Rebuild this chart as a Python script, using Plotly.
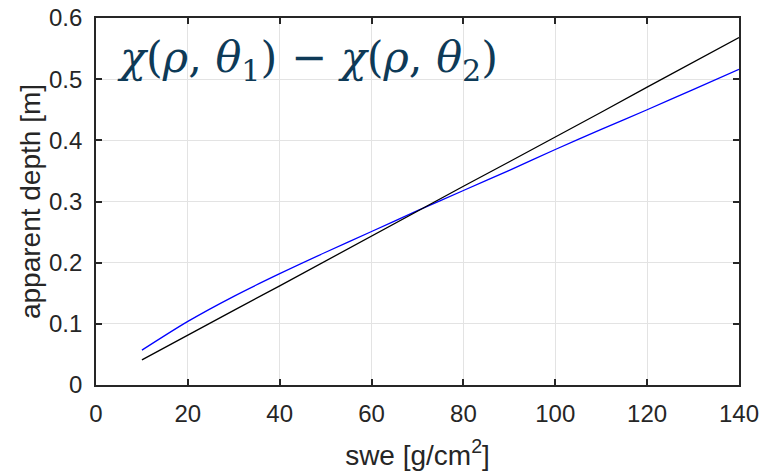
import plotly.graph_objects as go

swe = [10, 20, 30, 40, 50, 60, 70, 80, 90, 100, 110, 120, 130, 140]
depth_blue = [0.057, 0.104, 0.145, 0.182, 0.217, 0.251, 0.285, 0.318, 0.351, 0.385, 0.418, 0.450, 0.483, 0.516]
depth_black = [0.041, 0.082, 0.122, 0.162, 0.203, 0.243, 0.284, 0.325, 0.365, 0.405, 0.446, 0.487, 0.527, 0.568]

x_ticks = [0, 20, 40, 60, 80, 100, 120, 140]
y_ticks = [0, 0.1, 0.2, 0.3, 0.4, 0.5, 0.6]
y_ticklabels = ["0", "0.1", "0.2", "0.3", "0.4", "0.5", "0.6"]

axcol = "#262626"
fig = go.Figure()
fig.add_trace(go.Scatter(x=swe, y=depth_blue, mode="lines", line=dict(color="#0000ff", width=1.3, shape="spline", smoothing=0.8), showlegend=False))
fig.add_trace(go.Scatter(x=swe, y=depth_black, mode="lines", line=dict(color="#000000", width=1.3), showlegend=False))

axis_common = dict(showline=True, linecolor=axcol, linewidth=1.6, mirror="allticks",
                   ticks="inside", ticklen=6, tickwidth=1.6, tickcolor=axcol,
                   showgrid=True, gridcolor="#e3e3e3", gridwidth=1, zeroline=False,
                   automargin=False,
                   tickfont=dict(family="Liberation Sans, Arial", size=24, color=axcol))

fig.update_xaxes(range=[0, 140], tickvals=x_ticks, ticktext=[str(v) for v in x_ticks],
                 ticklabelstandoff=6,
                 title=dict(text="swe [g/cm<sup>2</sup>]", font=dict(family="Liberation Sans, Arial", size=28, color=axcol), standoff=20),
                 **axis_common)
fig.update_yaxes(range=[0, 0.6], tickvals=y_ticks, ticktext=y_ticklabels,
                 ticklabelstandoff=7,
                 title=dict(text="apparent depth [m]", font=dict(family="Liberation Sans, Arial", size=28, color=axcol), standoff=0),
                 **axis_common)

fig.add_annotation(xref="paper", yref="paper", x=0.029, y=0.886, xanchor="left", yanchor="middle",
                   text="<i>χ</i>(<i>ρ</i>, <i>θ</i><sub>1</sub>) − <i>χ</i>(<i>ρ</i>, <i>θ</i><sub>2</sub>)",
                   showarrow=False, font=dict(family="DejaVu Serif", size=43, color="#0e3a57"))

fig.update_layout(width=767, height=473, margin=dict(l=96, r=28, t=18, b=88),
                  paper_bgcolor="white", plot_bgcolor="white")
fig.write_html("out.html")
